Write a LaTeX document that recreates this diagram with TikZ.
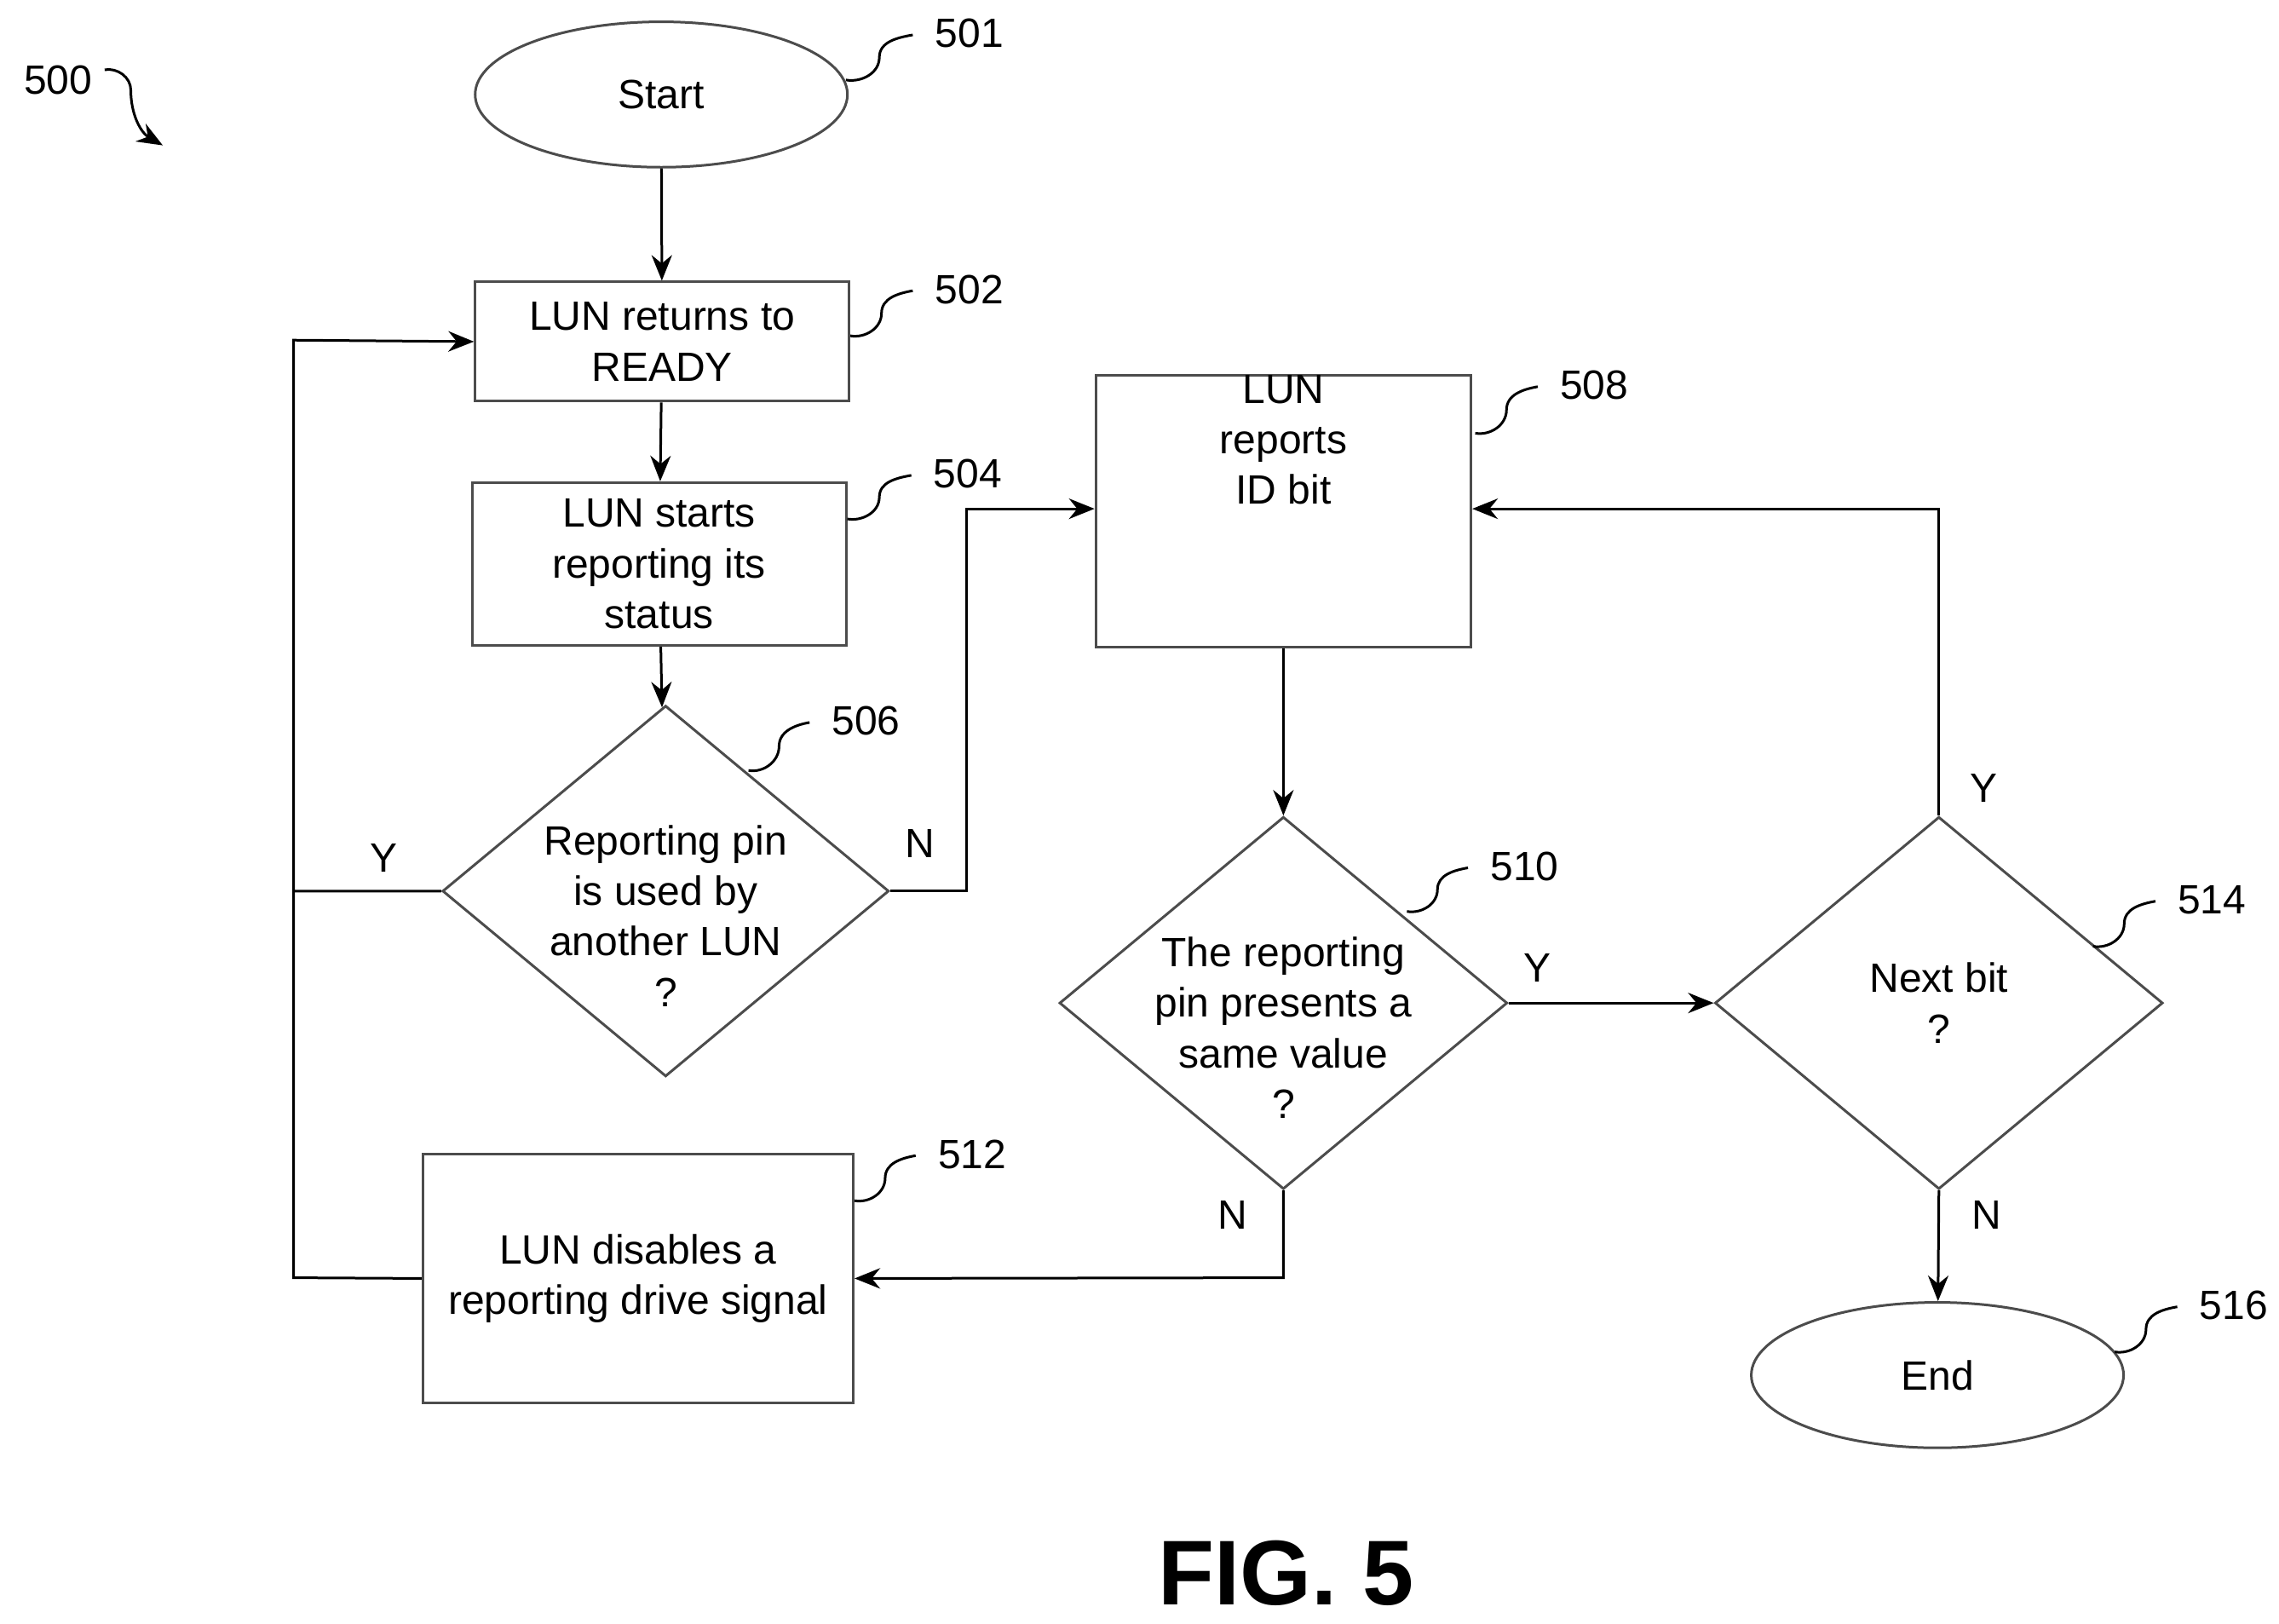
\documentclass[tikz,border=0pt]{standalone}
\usepackage{fontspec}
\setmainfont{Liberation Sans}
\usetikzlibrary{shapes.geometric,arrows.meta,calc}
\begin{document}
\begin{tikzpicture}[x=0.01cm,y=-0.01cm,
  every node/.style={font=\fontsize{8}{9.9}\selectfont},
  box/.style={draw=black!70,line width=0.5pt,align=center,inner sep=0pt},
  dia/.style={draw=black!70,line width=0.5pt,align=center,diamond,inner sep=0pt},
  ell/.style={draw=black!70,line width=0.5pt,ellipse,inner sep=0pt},
  arr/.style={-{Stealth[length=5pt,width=4pt]},line width=0.5pt},
  ln/.style={line width=0.5pt},
  sq/.style={line width=0.5pt}]
\useasboundingbox (0,0) rectangle (1568,1117);
\node[ell,minimum width=256\pgflinewidth*0+2.56cm,minimum height=1.0cm] (start) at (455,65) {Start};
\node[box,minimum width=2.57cm,minimum height=0.82cm] (b502) at (455.5,235) {LUN returns to\\READY};
\node[box,minimum width=2.57cm,minimum height=1.12cm] (b504) at (453.5,388) {LUN starts\\reporting its\\status};
\node[dia,minimum width=3.07cm,minimum height=2.55cm] (d506) at (458,613) {};
\node[align=center] at (458,630) {Reporting pin\\is used by\\another LUN\\?};
\node[box,minimum width=2.58cm,minimum height=1.71cm] (b508) at (883,351.5) {LUN\\reports\\ID bit\\[18pt]};
\node[dia,minimum width=3.08cm,minimum height=2.56cm] (d510) at (883,690) {};
\node[align=center] at (883,707) {The reporting\\pin presents a\\same value\\?};
\node[dia,minimum width=3.08cm,minimum height=2.56cm] (d514) at (1334,690) {};
\node[align=center] at (1334,690) {Next bit\\?};
\node[box,minimum width=2.96cm,minimum height=1.71cm] (b512) at (439,879.5) {LUN disables a\\reporting drive signal};
\node[ell,minimum width=2.56cm,minimum height=1.0cm] (end) at (1333,946) {End};
\node[font=\fontsize{18}{20}\selectfont\bfseries] (fig) at (885,1082) {FIG. 5};

\draw[arr] (start) -- (b502);
\draw[arr] (b502) -- (b504);
\draw[arr] (b504) -- (d506);
\draw[arr] (d506.west) -- (202,613) -- (202,234) -- (b502.west);
\draw[arr] (d506.east) -- (665,613) -- (665,350) -- (b508.west |- 0,350);
\draw[arr] (b508) -- (d510);
\draw[arr] (d510.east) -- (d514.west);
\draw[arr] (d510.south) -- (883,879) -- (b512.east);
\draw[ln] (b512.west) -- (202,879) -- (202,613);
\draw[arr] (d514.north) -- (1334,350) -- (b508.east |- 0,350);
\draw[arr] (d514.south) -- (end);

\node (ly1) at (264,590) {Y};
\node (ln1) at (633,580) {N};
\node (ly2) at (1058,666) {Y};
\node (ln2) at (848,836) {N};
\node (ly3) at (1365,542) {Y};
\node (ln3) at (1367,836) {N};

\foreach \ax/\ay/\bx/\by/\t/\nm in {582/55/628/24/501/l501, 585/231/628/200/502/l502, 583/357/627/327/504/l504, 515/530/557/497/506/l506, 1015/298/1058/266/508/l508, 968/627/1010/597/510/l510, 588/826/630/795/512/l512, 1440/651/1483/620/514/l514, 1455/930/1498/899/516/l516}{
  \coordinate (\nm a) at (\ax,\ay);
  \coordinate (\nm b) at (\bx,\by);
  \draw[sq] (\nm a) to[out=-10,in=270] ($(\nm a)!0.5!(\nm b)$) to[out=90,in=190] (\nm b);
  \node[anchor=west] (\nm) at (\bx+3,\by-1) {\t};
}
\node (l500) at (40,55) {500};
\coordinate (s500a) at (72,48);
\coordinate (s500b) at (112,100);
\draw[sq,-{Stealth[length=5pt,width=4pt]}] (s500a) to[out=10,in=90] (90,62) to[out=270,in=150] (s500b);
\end{tikzpicture}
\end{document}
